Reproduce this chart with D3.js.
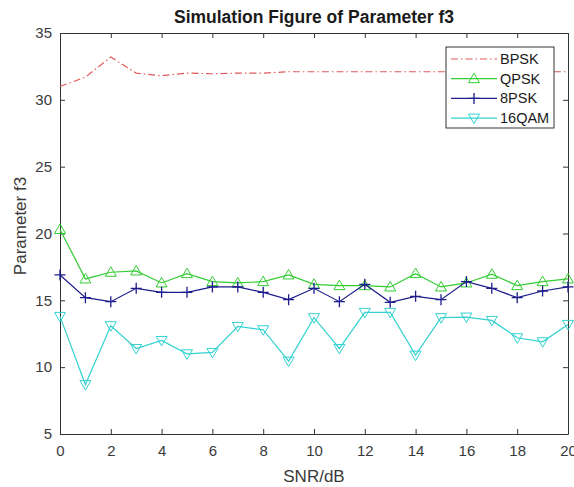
<!DOCTYPE html>
<html>
<head>
    <title>Simulation Figure of Parameter f3</title>
    <script src="https://d3js.org/d3.v7.min.js"></script>
    <style>
        body { margin: 0; background: #fff; }
        text { font-family: "Liberation Sans", Arial, sans-serif; }
        .tick text { font-size: 15px; fill: #3a3a3a; }
        .axis-label { font-size: 17px; fill: #3a3a3a; }
        .title { font-size: 17.5px; font-weight: bold; fill: #1a1a1a; }
        .legend text { font-size: 14.5px; fill: #1a1a1a; }
    </style>
</head>
<body>
    <svg width="574" height="487"></svg>
    <script>
        // SNR values (dB)
        var snr = d3.range(0, 21);
        var xTicks = [0, 2, 4, 6, 8, 10, 12, 14, 16, 18, 20];
        var yTicks = [5, 10, 15, 20, 25, 30, 35];

        var bpsk = [31.0, 31.7, 33.2, 32.0, 31.8, 32.0, 31.95, 32.0, 32.0, 32.1, 32.1,
                    32.1, 32.1, 32.1, 32.1, 32.1, 32.1, 32.1, 32.1, 32.1, 32.1];
        var qpsk = [20.3, 16.6, 17.1, 17.2, 16.3, 17.0, 16.4, 16.3, 16.4, 16.9, 16.2,
                    16.1, 16.1, 16.0, 17.0, 16.0, 16.3, 16.95, 16.1, 16.4, 16.6];
        var psk8 = [16.9, 15.2, 14.9, 15.9, 15.6, 15.6, 16.0, 16.0, 15.6, 15.05, 15.9,
                    14.9, 16.2, 14.85, 15.3, 15.05, 16.4, 15.9, 15.2, 15.7, 16.0];
        var qam16 = [13.8, 8.7, 13.1, 11.4, 12.0, 11.0, 11.1, 13.05, 12.8, 10.45, 13.7,
                     11.4, 14.1, 14.1, 10.9, 13.7, 13.75, 13.5, 12.2, 11.9, 13.2];

        var names = ["BPSK", "QPSK", "8PSK", "16QAM"];
        var colors = ["#e05a5a", "#33cc33", "#1c1c8c", "#33d1d1"];
        var markers = ["none", "up", "plus", "down"];
        var seriesValues = [bpsk, qpsk, psk8, qam16];

        var svg = d3.select("svg"),
            margin = {top: 33, right: 6, bottom: 53, left: 60},
            width = +svg.attr("width") - margin.left - margin.right,
            height = +svg.attr("height") - margin.top - margin.bottom;

        var x = d3.scaleLinear().domain([0, 20]).range([0, width]);
        var y = d3.scaleLinear().domain([5, 35]).range([height, 0]);

        var g = svg.append("g").attr("transform", "translate(" + margin.left + "," + margin.top + ")");

        // axes with inward ticks, box on
        var axisColor = "#333";
        var xb = g.append("g").attr("transform", `translate(0,${height})`)
            .call(d3.axisBottom(x).tickValues(xTicks).tickSizeInner(-5).tickSizeOuter(0).tickPadding(11));
        var xt = g.append("g")
            .call(d3.axisTop(x).tickValues(xTicks).tickSizeInner(-5).tickSizeOuter(0).tickFormat(""));
        var yl = g.append("g")
            .call(d3.axisLeft(y).tickValues(yTicks).tickSizeInner(-5).tickSizeOuter(0).tickPadding(8));
        var yr = g.append("g").attr("transform", `translate(${width},0)`)
            .call(d3.axisRight(y).tickValues(yTicks).tickSizeInner(-5).tickSizeOuter(0).tickFormat(""));
        [xb, xt, yl, yr].forEach(function(a) {
            a.selectAll("path, line").attr("stroke", axisColor);
        });

        var line = d3.line().x((d, i) => x(snr[i])).y(d => y(d));

        function drawMarker(sel, type, color) {
            if (type === "up") {
                sel.append("path").attr("d", "M0,-5.5L5.5,4L-5.5,4Z")
                    .attr("fill", "none").attr("stroke", color).attr("stroke-width", 1);
            } else if (type === "down") {
                sel.append("path").attr("d", "M0,5.5L5.5,-4L-5.5,-4Z")
                    .attr("fill", "none").attr("stroke", color).attr("stroke-width", 1);
            } else if (type === "plus") {
                sel.append("path").attr("d", "M-5.5,0H5.5M0,-5.5V5.5")
                    .attr("fill", "none").attr("stroke", color).attr("stroke-width", 1.3);
            }
        }

        var plot = g.append("g");
        seriesValues.forEach(function(vals, k) {
            plot.append("path")
                .datum(vals)
                .attr("fill", "none")
                .attr("stroke", colors[k])
                .attr("stroke-width", 1.2)
                .attr("stroke-dasharray", k === 0 ? "7,3,1.5,3" : null)
                .attr("d", line);
            if (markers[k] !== "none") {
                plot.selectAll(null)
                    .data(vals)
                    .enter().append("g")
                    .attr("transform", (d, i) => `translate(${x(snr[i])},${y(d)})`)
                    .each(function() { drawMarker(d3.select(this), markers[k], colors[k]); });
            }
        });

        // title and labels
        svg.append("text").attr("class", "title")
            .attr("x", margin.left + width / 2).attr("y", 23)
            .attr("text-anchor", "middle")
            .text("Simulation Figure of Parameter f3");
        svg.append("text").attr("class", "axis-label")
            .attr("x", margin.left + width / 2).attr("y", 482)
            .attr("text-anchor", "middle")
            .text("SNR/dB");
        svg.append("text").attr("class", "axis-label")
            .attr("transform", "translate(26,226) rotate(-90)")
            .attr("text-anchor", "middle")
            .text("Parameter f3");

        // legend
        var legend = svg.append("g").attr("class", "legend")
            .attr("transform", "translate(446,47)");
        legend.append("rect")
            .attr("width", 108).attr("height", 81)
            .attr("fill", "#fff").attr("stroke", "#333").attr("stroke-width", 1);
        var rows = legend.selectAll("g.row")
            .data(names)
            .enter().append("g").attr("class", "row")
            .attr("transform", (d, i) => `translate(0,${12 + i * 19.7})`);
        rows.append("line")
            .attr("x1", 5).attr("x2", 51)
            .attr("stroke", (d, i) => colors[i])
            .attr("stroke-width", 1.2)
            .attr("stroke-dasharray", (d, i) => i === 0 ? "7,3,1.5,3" : null);
        rows.each(function(d, i) {
            var m = d3.select(this).append("g").attr("transform", "translate(28,0)");
            drawMarker(m, markers[i], colors[i]);
        });
        rows.append("text")
            .attr("x", 54).attr("dy", "0.35em")
            .text(d => d);
    </script>
</body>
</html>
